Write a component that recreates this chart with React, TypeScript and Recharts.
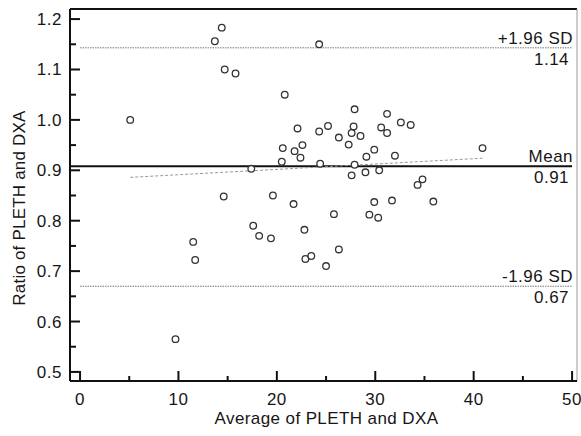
import React from 'react';
import { ScatterChart, Scatter, XAxis, YAxis, ReferenceLine } from 'recharts';

// Average of PLETH and DXA (x) and ratio of PLETH and DXA (y)
const avgValues = [
  5.1, 9.7, 11.5, 11.7, 13.7, 14.4, 14.7, 15.8, 14.6, 17.4,
  17.6, 18.2, 19.4, 19.6, 20.5, 20.6, 20.8, 21.7, 21.8, 22.1,
  22.4, 22.6, 22.8, 22.9, 23.5, 24.3, 24.3, 24.4, 25.2, 25.0,
  25.8, 26.3, 26.3, 27.3, 27.6, 27.8, 27.9, 27.9, 27.6, 28.5,
  29.0, 29.1, 29.4, 29.9, 29.9, 30.3, 30.4, 30.6, 31.2, 31.2,
  31.7, 32.0, 32.6, 33.6, 34.3, 34.8, 35.9, 40.9,
];
const ratioValues = [
  1.0, 0.565, 0.758, 0.722, 1.156, 1.183, 1.1, 1.092, 0.848, 0.903,
  0.79, 0.77, 0.765, 0.85, 0.917, 0.944, 1.05, 0.833, 0.938, 0.983,
  0.925, 0.95, 0.782, 0.724, 0.73, 1.15, 0.977, 0.913, 0.988, 0.71,
  0.813, 0.965, 0.743, 0.951, 0.974, 0.987, 1.021, 0.911, 0.89, 0.968,
  0.896, 0.927, 0.812, 0.941, 0.837, 0.806, 0.9, 0.985, 1.012, 0.974,
  0.84, 0.929, 0.995, 0.99, 0.871, 0.882, 0.838, 0.944,
];

const xTicks = [0, 5, 10, 15, 20, 25, 30, 35, 40, 45, 50];
const xMajorTicks = [0, 10, 20, 30, 40, 50];
const yTicks = [0.5, 0.55, 0.6, 0.65, 0.7, 0.75, 0.8, 0.85, 0.9, 0.95, 1.0, 1.05, 1.1, 1.15, 1.2];
const xDomain = [-1.02, 50.5];
const yDomain = [0.482, 1.22];

const meanRatio = 0.908;
const upperLimit = 1.143;
const lowerLimit = 0.67;
const meanLabel = ['Mean', '0.91'];
const upperLabel = ['+1.96 SD', '1.14'];
const lowerLabel = ['-1.96 SD', '0.67'];
const regressionX = [5.1, 40.9];
const regressionY = [0.886, 0.924];

const data = avgValues.map((x, i) => ({ x, y: ratioValues[i] }));

const FONT = '"Liberation Sans", Arial, Helvetica, sans-serif';
const TEXT = '#161616';
const LS = 0.5;

const isMajorY = (v: number) => Math.abs(v * 10 - Math.round(v * 10)) < 1e-6;

const YTick = (props: any) => {
  const { x, y, payload } = props;
  const v = payload.value as number;
  const major = isMajorY(v);
  const ax = x + 8;
  return (
    <g>
      <line x1={ax} x2={ax + (major ? 10 : 6)} y1={y} y2={y} stroke="#111" strokeWidth={2} />
      {major && (
        <text x={x} y={y + 6} textAnchor="end" fontSize={17} letterSpacing={LS} fontFamily={FONT} fill={TEXT}>
          {v.toFixed(1)}
        </text>
      )}
    </g>
  );
};

const XTick = (props: any) => {
  const { x, y, payload } = props;
  const v = payload.value as number;
  const major = xMajorTicks.includes(v);
  const ay = y - 10;
  return (
    <g>
      <line x1={x} x2={x} y1={ay} y2={ay - (major ? 10 : 5)} stroke="#111" strokeWidth={2} />
      {major && (
        <text x={x} y={y + 14} textAnchor="middle" fontSize={17} letterSpacing={LS} fontFamily={FONT} fill={TEXT}>
          {v}
        </text>
      )}
    </g>
  );
};

const LineLabel = (props: any) => {
  const { viewBox, title, value } = props;
  const right = viewBox.x + viewBox.width;
  const y = viewBox.y;
  return (
    <g>
      <text x={right + 1} y={y - 4} textAnchor="end" fontSize={17} letterSpacing={LS} fontFamily={FONT} fill={TEXT}>
        {title}
      </text>
      <text x={right - 3} y={y + 17} textAnchor="end" fontSize={17} letterSpacing={LS} fontFamily={FONT} fill={TEXT}>
        {value}
      </text>
    </g>
  );
};

const YTitle = (props: any) => {
  const { viewBox } = props;
  const cx = viewBox.x + 9;
  const cy = viewBox.y + viewBox.height / 2 + 13;
  return (
    <text
      x={cx}
      y={cy}
      transform={`rotate(-90 ${cx} ${cy})`}
      textAnchor="middle"
      dominantBaseline="central"
      fontSize={17}
      letterSpacing={0.2}
      fontFamily={FONT}
      fill={TEXT}
    >
      Ratio of PLETH and DXA
    </text>
  );
};

const XTitle = (props: any) => {
  const { viewBox } = props;
  const cx = viewBox.x + viewBox.width / 2 + 3;
  const by = viewBox.y + 43;
  return (
    <text x={cx} y={by} textAnchor="middle" fontSize={17} letterSpacing={0.4} fontFamily={FONT} fill={TEXT}>
      Average of PLETH and DXA
    </text>
  );
};

const OpenCircle = (props: any) => {
  const { cx, cy } = props;
  return <circle cx={cx} cy={cy} r={3.3} fill="#fff" stroke="#333" strokeWidth={1.3} />;
};

export default function App() {
  return (
    <div style={{ position: 'absolute', left: 0, top: 0, background: '#fff' }}>
      <ScatterChart
        width={581}
        height={436}
        margin={{ top: 9, right: 4, bottom: 10, left: 10 }}
      >
        <XAxis
          type="number"
          dataKey="x"
          domain={xDomain}
          ticks={xTicks}
          allowDataOverflow
          height={45}
          tickSize={0}
          tickMargin={10}
          tick={<XTick />}
          axisLine={{ stroke: '#111', strokeWidth: 2 }}
          tickLine={false}
          interval={0}
          label={<XTitle />}
        />
        <YAxis
          type="number"
          dataKey="y"
          domain={yDomain}
          ticks={yTicks}
          allowDataOverflow
          width={60}
          tickSize={0}
          tickMargin={8}
          tick={<YTick />}
          axisLine={{ stroke: '#111', strokeWidth: 2 }}
          tickLine={false}
          interval={0}
          label={<YTitle />}
        />
        <ReferenceLine y={yDomain[1]} stroke="#111" strokeWidth={2} ifOverflow="visible" />
        <ReferenceLine x={xDomain[1]} stroke="#999" strokeWidth={1} ifOverflow="visible" />
        <ReferenceLine
          segment={[{ x: 0, y: upperLimit }, { x: 50, y: upperLimit }]}
          stroke="#777"
          strokeWidth={1}
          strokeDasharray="1.5 1"
          label={<LineLabel title={upperLabel[0]} value={upperLabel[1]} />}
        />
        <ReferenceLine
          segment={[{ x: 0, y: lowerLimit }, { x: 50, y: lowerLimit }]}
          stroke="#777"
          strokeWidth={1}
          strokeDasharray="1.5 1"
          label={<LineLabel title={lowerLabel[0]} value={lowerLabel[1]} />}
        />
        <ReferenceLine
          segment={[{ x: xDomain[0], y: meanRatio }, { x: 50, y: meanRatio }]}
          stroke="#111"
          strokeWidth={2}
          label={<LineLabel title={meanLabel[0]} value={meanLabel[1]} />}
        />
        <ReferenceLine
          segment={[{ x: regressionX[0], y: regressionY[0] }, { x: regressionX[1], y: regressionY[1] }]}
          stroke="#999"
          strokeWidth={1}
          strokeDasharray="3 2"
        />
        <Scatter data={data} shape={<OpenCircle />} isAnimationActive={false} />
      </ScatterChart>
    </div>
  );
}
